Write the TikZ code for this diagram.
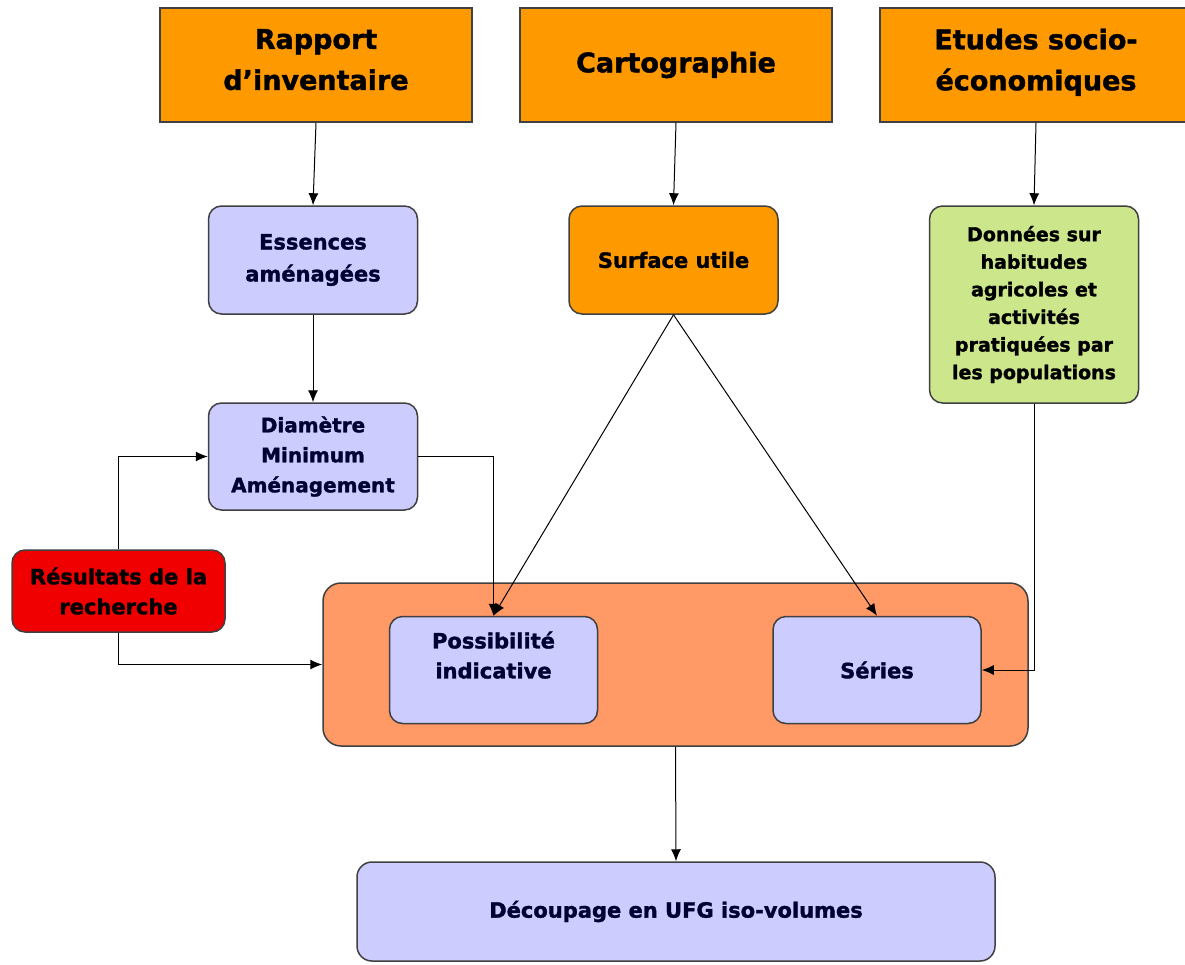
\documentclass[tikz,border=0pt]{standalone}
\usepackage{fontspec}
\setmainfont{DejaVu Sans}[BoldFeatures={FakeBold=1.5}]
\usetikzlibrary{arrows.meta}
\definecolor{orangebox}{RGB}{255,153,0}
\definecolor{lavbox}{RGB}{204,204,255}
\definecolor{greenbox}{RGB}{204,230,140}
\definecolor{redbox}{RGB}{240,0,0}
\definecolor{salmonbox}{RGB}{255,153,102}
\definecolor{edgegray}{RGB}{64,64,64}
\definecolor{navytext}{RGB}{0,0,51}
\tikzset{
  box/.style={draw=edgegray,line width=1.5pt,align=center,inner sep=0pt},
  head/.style={box,fill=orangebox,minimum width=312pt,minimum height=114pt,font=\bfseries\fontsize{27}{41}\selectfont},
  rbox/.style={box,rounded corners=13pt,minimum width=209pt,minimum height=108pt,font=\bfseries\fontsize{21}{32}\selectfont},
  lav/.style={rbox,fill=lavbox,text=navytext},
  link/.style={-{Latex[length=12pt,width=10pt]},line width=1pt}
}
\begin{document}
\begin{tikzpicture}[x=1pt,y=-1pt]
\useasboundingbox (0,0) rectangle (1185,964);
% sources
\node[head] (rap) at (316,65) {Rapport\\d’inventaire\\[-30pt]};
\node[head] (carto) at (676,65) {Cartographie};
\node[head] (etu) at (1036,65) {Etudes socio-\\économiques\\[-30pt]};
% second row
\node[lav] (ess) at (313,260) {Essences\\aménagées};
\node[rbox,fill=orangebox] (surf) at (673.5,260) {Surface utile};
\node[rbox,fill=greenbox,minimum height=197pt,font=\bfseries\fontsize{19}{27.6}\selectfont] (donn) at (1034,304.5)
  {Données sur\\habitudes\\agricoles et\\activités\\pratiquées par\\les populations};
\node[lav,minimum height=107pt,font=\bfseries\fontsize{20}{30}\selectfont] (diam) at (313,456.5) {Diamètre\\Minimum\\Aménagement};
\node[rbox,fill=redbox,minimum width=213pt,minimum height=82pt,font=\bfseries\fontsize{21}{30}\selectfont] (res) at (118.5,591) {Résultats de la\\recherche};
% container
\node[box,rounded corners=18pt,fill=salmonbox,minimum width=705pt,minimum height=163pt] (cont) at (675.5,664.5) {};
\node[lav,minimum width=208pt,minimum height=107pt,font=\bfseries\fontsize{21}{30}\selectfont] (poss) at (493.5,670) {Possibilité\\indicative\\\mbox{}};
\node[lav,minimum width=208pt,minimum height=107pt] (ser) at (877,670) {Séries};
% result
\node[lav,rounded corners=15pt,minimum width=638pt,minimum height=99pt] (dec) at (676,911.5) {Découpage en UFG iso-volumes};
% links
\draw[link] (rap.south) -- (ess.north);
\draw[link] (carto.south) -- (surf.north);
\draw[link] (etu.south) -- (donn.north);
\draw[link] (ess.south) -- (diam.north);
\draw[link] (diam.east) -| (poss.north);
\draw[link] (surf.south) -- (poss.north);
\draw[link] (surf.south) -- (ser.north);
\draw[link] (donn.south) |- (ser.east);
\draw[link] (res.north) |- (diam.west);
\draw[link] (res.south) |- (cont.west);
\draw[link] (cont.south) -- (dec.north);
\end{tikzpicture}
\end{document}
